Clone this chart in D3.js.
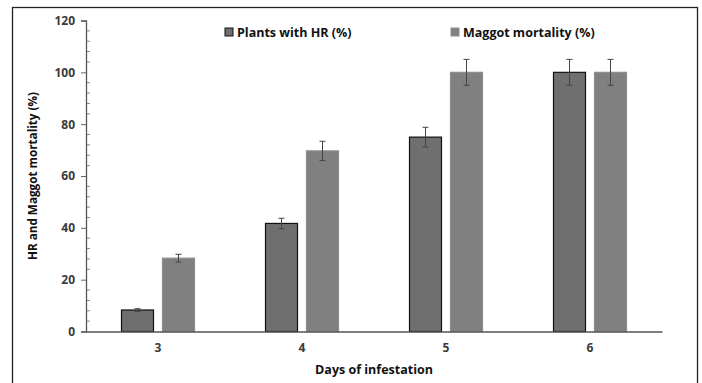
<!DOCTYPE html>
<html>
<head>
  <meta charset="UTF-8">
  <title>HR and Maggot mortality</title>
  <style>
    body { margin: 0; padding: 0; background: #fff; font-family: "Open Sans", Arial, sans-serif; }
    svg { display: block; }
  </style>
</head>
<body>
  <svg></svg>
  <script src="https://d3js.org/d3.v7.min.js"></script>
  <script>
    // data
    let days = ["3", "4", "5", "6"];
    let seriesNames = ["Plants with HR (%)", "Maggot mortality (%)"];
    let plantsHR = [8.3, 41.7, 75, 100];
    let plantsErr = [0.5, 2.0, 3.8, 5.0];
    let maggotMort = [28.3, 69.7, 100, 100];
    let maggotErr = [1.5, 3.7, 5.0, 5.0];
    let yTicks = [0, 20, 40, 60, 80, 100, 120];

    let width = 702, height = 383;
    let svg = d3.select("svg").attr("width", width).attr("height", height);

    // outer frame
    svg.append("rect")
      .attr("x", 12.5).attr("y", 7.5)
      .attr("width", 685).attr("height", 390)
      .attr("fill", "none").attr("stroke", "#222").attr("stroke-width", 1.3);

    let mLeft = 86, mRight = 662, mTop = 20.5, mBottom = 331.5;

    let x = d3.scaleBand().domain(days).range([mLeft, mRight]);
    let y = d3.scaleLinear().domain([0, 120]).range([mBottom, mTop]);

    let series = [
      { name: seriesNames[0], vals: plantsHR, err: plantsErr, fill: "#6f6f6f", stroke: "#111" },
      { name: seriesNames[1], vals: maggotMort, err: maggotErr, fill: "#808080", stroke: "#8e8e8e" }
    ];
    let barW = 32, gap = 9;
    let offs = [-(gap / 2 + barW), gap / 2];

    // y axis with minor ticks
    let minor = d3.range(0, 121, 4).filter(v => v % 20 != 0);
    let gy = svg.append("g").attr("transform", "translate(" + mLeft + ",0)");
    gy.selectAll(".minor").data(minor).enter().append("line")
      .attr("x1", 0).attr("x2", 4)
      .attr("y1", d => y(d)).attr("y2", d => y(d))
      .attr("stroke", "#888").attr("stroke-width", 1);
    gy.call(d3.axisLeft(y).tickValues(yTicks).tickSize(5).tickPadding(6));
    gy.select(".domain").attr("stroke", "#555").attr("stroke-width", 1.3);
    gy.selectAll(".tick line").attr("stroke", "#666");
    gy.selectAll(".tick text")
      .attr("fill", "#3a3a3a").style("font-size", "12px").style("font-weight", "bold")
      .style("font-family", "'Open Sans', Arial, sans-serif");

    // bars
    series.forEach((s, i) => {
      let g = svg.append("g");
      g.selectAll("rect").data(days).enter().append("rect")
        .attr("x", (d) => x(d) + x.bandwidth() / 2 + offs[i])
        .attr("y", (d, j) => y(s.vals[j]))
        .attr("width", barW)
        .attr("height", (d, j) => y(0) - y(s.vals[j]))
        .attr("fill", s.fill)
        .attr("stroke", s.stroke).attr("stroke-width", 1.2);

      // error bars
      days.forEach((d, j) => {
        let cx = x(d) + x.bandwidth() / 2 + offs[i] + barW / 2;
        let hi = y(s.vals[j] + s.err[j]), lo = y(s.vals[j] - s.err[j]);
        g.append("line").attr("x1", cx).attr("x2", cx).attr("y1", hi).attr("y2", lo)
          .attr("stroke", "#444").attr("stroke-width", 1);
        [hi, lo].forEach(yy => {
          g.append("line").attr("x1", cx - 3).attr("x2", cx + 3).attr("y1", yy).attr("y2", yy)
            .attr("stroke", "#444").attr("stroke-width", 1);
        });
      });
    });

    // x axis
    let gx = svg.append("g").attr("transform", "translate(0," + mBottom + ")");
    gx.call(d3.axisBottom(x).tickSize(0).tickPadding(12));
    gx.select(".domain").attr("stroke", "#555").attr("stroke-width", 1.3);
    gx.selectAll(".tick text")
      .attr("fill", "#3a3a3a").style("font-size", "12px").style("font-weight", "bold")
      .style("font-family", "'Open Sans', Arial, sans-serif");

    // axis titles
    svg.append("text")
      .attr("x", (mLeft + mRight) / 2).attr("y", 374)
      .attr("text-anchor", "middle")
      .style("font-size", "12.5px").style("font-weight", "bold").attr("fill", "#111")
      .text("Days of infestation");

    svg.append("text")
      .attr("transform", "translate(37," + (mTop + mBottom) / 2 + ") rotate(-90)")
      .attr("text-anchor", "middle")
      .style("font-size", "11.7px").style("font-weight", "bold").attr("fill", "#111")
      .text("HR and Maggot mortality (%)");

    // legend
    let legX = [225, 451];
    series.forEach((s, i) => {
      let lg = svg.append("g").attr("transform", "translate(" + legX[i] + ",28)");
      lg.append("rect").attr("x", 0).attr("y", 0).attr("width", 8).attr("height", 8)
        .attr("fill", s.fill).attr("stroke", s.stroke).attr("stroke-width", 1);
      lg.append("text").attr("x", 12).attr("y", 9)
        .style("font-size", "12.5px").style("font-weight", "bold").attr("fill", "#111")
        .text(s.name);
    });
  </script>
</body>
</html>
